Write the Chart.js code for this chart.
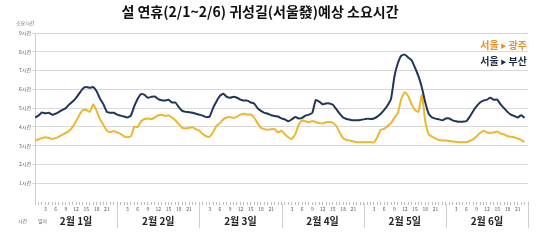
<!DOCTYPE html>
<html><head><meta charset="utf-8">
<script src="https://cdn.jsdelivr.net/npm/chart.js@4/dist/chart.umd.min.js"></script>
<style>html,body{margin:0;padding:0;background:#fff}#wrap{width:550px;height:242px}</style>
</head><body><div id="wrap"><canvas id="c" width="550" height="242"></canvas></div>
<script>
const title = '설 연휴(2/1~2/6) 귀성길(서울發)예상 소요시간';
const dayLabels = ['2월 1일','2월 2일','2월 3일','2월 4일','2월 5일','2월 6일'];
const hourTickLabels = [3,6,9,12,15,18,21];
const seriesFrom = ['서울','서울'];
const seriesTo = ['광주','부산'];
const yTickLabels = ['','1시간','2시간','3시간','4시간','5시간','6시간','7시간','8시간','9시간'];
const busan = [
 4.5,4.6,4.77,4.72,4.75,4.65,4.7,4.8,4.9,5.0,5.2,5.35,5.55,5.8,6.05,6.12,6.08,6.12,5.9,5.5,5.2,4.8,4.75,4.75,
 4.65,4.6,4.55,4.5,4.6,5.1,5.5,5.75,5.7,5.55,5.6,5.62,5.48,5.42,5.4,5.45,5.3,5.3,5.05,4.85,4.8,4.78,4.75,4.7,
 4.65,4.6,4.52,4.55,5.0,5.35,5.65,5.77,5.6,5.55,5.6,5.55,5.45,5.4,5.4,5.3,5.25,5.0,4.85,4.75,4.7,4.62,4.58,4.55,
 4.45,4.4,4.3,4.4,4.53,4.45,4.48,4.6,4.65,4.75,5.43,5.35,5.2,5.25,5.25,5.18,4.95,4.7,4.5,4.42,4.38,4.35,4.35,4.37,
 4.4,4.44,4.42,4.45,4.55,4.7,4.9,5.15,5.5,6.7,7.4,7.8,7.85,7.7,7.55,7.15,6.7,6.1,5.3,4.7,4.5,4.44,4.4,4.35,
 4.45,4.45,4.35,4.3,4.27,4.28,4.3,4.55,4.85,5.1,5.3,5.4,5.45,5.55,5.45,5.45,5.2,5.0,4.8,4.65,4.58,4.5,4.62,4.48
];
const gwangju = [
 3.27,3.33,3.4,3.45,3.42,3.36,3.4,3.48,3.58,3.68,3.8,4.0,4.3,4.65,4.9,4.9,4.8,5.2,4.85,4.4,4.1,3.8,3.72,3.78,
 3.7,3.63,3.5,3.45,3.5,4.0,4.0,4.3,4.42,4.45,4.42,4.5,4.62,4.65,4.58,4.62,4.5,4.35,4.15,3.95,3.92,3.95,3.98,3.88,
 3.8,3.62,3.5,3.48,3.7,4.05,4.2,4.4,4.5,4.52,4.48,4.55,4.65,4.7,4.65,4.66,4.5,4.2,3.95,3.88,3.85,3.88,3.88,3.7,
 3.8,3.6,3.45,3.36,3.6,4.1,4.35,4.3,4.25,4.32,4.25,4.2,4.18,4.25,4.26,4.22,4.05,3.7,3.4,3.3,3.27,3.22,3.18,3.18,
 3.18,3.18,3.18,3.18,3.45,3.85,3.9,4.05,4.2,4.5,4.75,5.5,5.85,5.65,5.2,4.9,4.8,5.7,4.3,3.6,3.48,3.38,3.3,3.27,
 3.27,3.25,3.22,3.2,3.18,3.18,3.2,3.25,3.35,3.5,3.68,3.8,3.7,3.68,3.7,3.75,3.65,3.6,3.5,3.48,3.45,3.38,3.3,3.2
];
const colors = {gwangju:'#EDB62F', busan:'#1F3658', legendG:'#E8902C', legendB:'#1F2A44'};
const KFONT = '"Noto Sans CJK KR","Noto Sans",sans-serif';
const toPts = arr => arr.map((v,i)=>({x:i, y:v}));

function legendItem(ctx, right, y, from, to, color){
  ctx.fillStyle = color;
  ctx.textAlign = 'left'; ctx.textBaseline = 'middle';
  ctx.font = 'bold 10px ' + KFONT;
  const wTo = ctx.measureText(to).width;
  const wFrom = ctx.measureText(from).width;
  const tri = '▶';
  ctx.font = 'bold 6px ' + KFONT;
  const wTri = ctx.measureText(tri).width;
  const gap = 2;
  let x = right - wTo - gap - wTri - gap - wFrom;
  ctx.font = 'bold 10px ' + KFONT;
  ctx.fillText(from, x, y); x += wFrom + gap;
  ctx.font = 'bold 6px ' + KFONT;
  ctx.fillText(tri, x, y+0.5); x += wTri + gap;
  ctx.font = 'bold 10px ' + KFONT;
  ctx.fillText(to, x, y);
}

const decor = {
  id:'decor',
  afterDraw(chart){
    const ctx = chart.ctx, xs = chart.scales.x, a = chart.chartArea;
    ctx.save();
    ctx.fillStyle = '#111';
    ctx.font = 'bold 14px ' + KFONT;
    ctx.textAlign = 'center'; ctx.textBaseline = 'middle';
    ctx.fillText(title, 260, 12);
    ctx.font = '5px ' + KFONT; ctx.fillStyle = '#666';
    ctx.textAlign = 'left';
    ctx.fillText('소요시간', 16, 23);
    ctx.fillText('시간', 18, 221);
    ctx.fillText('일자', 38, 221);
    ctx.strokeStyle = '#cfcfcf'; ctx.lineWidth = 1;
    for (let d=1; d<=6; d++){
      const x = Math.round(xs.getPixelForValue(d*24)) + 0.5;
      ctx.beginPath(); ctx.moveTo(x, a.bottom+2); ctx.lineTo(x, a.bottom+26); ctx.stroke();
    }
    ctx.fillStyle = '#222';
    ctx.font = 'bold 10px ' + KFONT;
    ctx.textAlign = 'center';
    dayLabels.forEach((t,d)=>{
      ctx.fillText(t, xs.getPixelForValue(d*24+12), 221);
    });
    legendItem(ctx, 527, 45, seriesFrom[0], seriesTo[0], colors.legendG);
    legendItem(ctx, 527, 61, seriesFrom[1], seriesTo[1], colors.legendB);
    ctx.restore();
  }
};

new Chart(document.getElementById('c'), {
  type:'line',
  data:{ datasets:[
    {label:'서울 ▶ 부산', data:toPts(busan), borderColor:colors.busan, borderWidth:2, pointRadius:0, tension:0.15, fill:false},
    {label:'서울 ▶ 광주', data:toPts(gwangju), borderColor:colors.gwangju, borderWidth:2, pointRadius:0, tension:0.15, fill:false}
  ]},
  options:{
    responsive:false, animation:false,
    layout:{padding:{left:0, right:22, top:33, bottom:0}},
    plugins:{legend:{display:false}, tooltip:{enabled:false}, title:{display:false}},
    scales:{
      x:{
        type:'linear', min:0, max:144,
        border:{display:false},
        grid:{drawOnChartArea:false, drawTicks:true, tickLength:3, color:'#bdbdbd'},
        ticks:{
          stepSize:1, autoSkip:false, maxRotation:0, padding:1,
          font:{size:5, family:KFONT}, color:'#555',
          callback:(v)=>{ const h=v%24; return hourTickLabels.includes(h) ? String(h) : ''; }
        },
        afterFit(s){ s.height = 40; }
      },
      y:{
        min:0, max:9,
        border:{display:true, color:'#d0d0d0'},
        grid:{color:(c)=> c.tick && c.tick.value===0 ? 'rgba(0,0,0,0)' : '#d9d9d9', tickLength:3},
        ticks:{stepSize:1, font:{size:5, family:KFONT}, color:'#555', padding:1,
          callback:(v)=>yTickLabels[v]},
        afterFit(s){ s.width = 35; }
      }
    }
  },
  plugins:[decor]
});
</script></body></html>
